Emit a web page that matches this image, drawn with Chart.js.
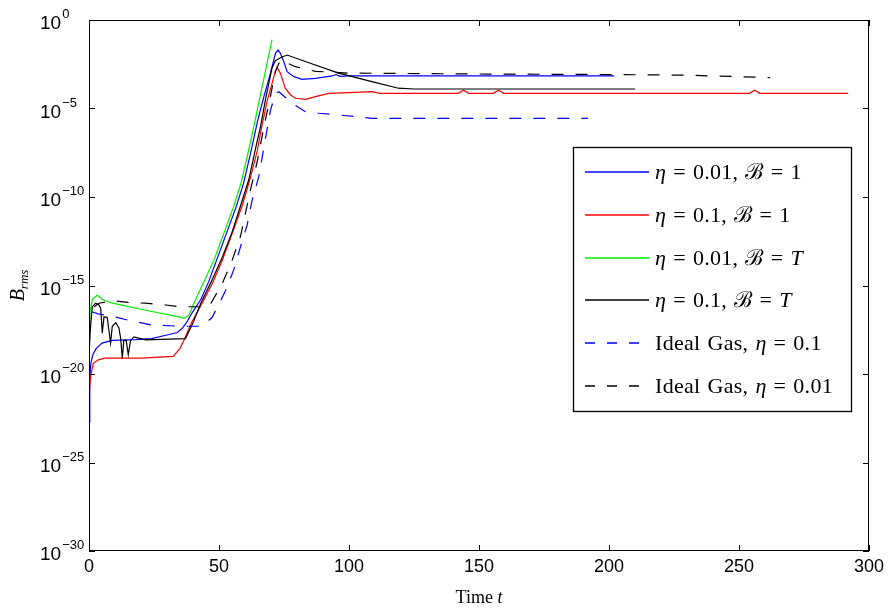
<!DOCTYPE html>
<html>
<head>
<meta charset="utf-8">
<script src="https://cdn.jsdelivr.net/npm/chart.js@4.4.0/dist/chart.umd.min.js"></script>
<style>
  html, body { margin: 0; padding: 0; background: #fff; }
</style>
</head>
<body>
<canvas id="brmsChart" width="893" height="614"></canvas>
<script>
// ---- values: time t vs B_rms ----
const xTicks = [0, 50, 100, 150, 200, 250, 300];
const yTicks = [1, 1e-5, 1e-10, 1e-15, 1e-20, 1e-25, 1e-30];
const yTickExp = ['0', '\u22125', '\u221210', '\u221215', '\u221220', '\u221225', '\u221230'];

const seriesLabels = [
    '\u03b7 = 0.01, \u212c = 1',
    '\u03b7 = 0.1, \u212c = 1',
    '\u03b7 = 0.01, \u212c = T',
    '\u03b7 = 0.1, \u212c = T',
    'Ideal Gas, \u03b7 = 0.1',
    'Ideal Gas, \u03b7 = 0.01'
];
const seriesColors = ['#0000ff', '#ff0000', '#00ee00', '#000000', '#0000ff', '#000000'];
const seriesDashed = [false, false, false, false, true, true];

// eta = 0.01, B = 1 (blue solid)
const blueT = [0, 0.3, 0.7, 1.5, 2.8, 5, 9, 18, 24, 30, 34, 36, 37.5, 39.4, 43, 46, 49.5, 53, 56.5, 59.5, 62.5, 65, 67.5, 69.8, 71.7, 72.7, 73.6, 74.9, 76.2, 78.8, 81.9, 87.1, 93.5, 95, 96.5, 100, 202];
const blueB = [2.0e-23, 5.0e-21, 4.0e-20, 1.26e-19, 2.8e-19, 5.6e-19, 7.9e-19, 8.7e-19, 1.0e-18, 1.6e-18, 2.2e-18, 4.0e-18, 7.9e-18, 2.5e-17, 1.6e-16, 1.6e-15, 4.0e-14, 1.0e-12, 2.5e-11, 6.3e-10, 5.0e-8, 2.5e-6, 6.3e-5, 1.0e-3, 1.3e-2, 2.0e-2, 1.3e-2, 4.5e-3, 1.2e-3, 6.3e-4, 4.4e-4, 5.0e-4, 6.9e-4, 8.3e-4, 6.6e-4, 6.9e-4, 6.9e-4];

// eta = 0.1, B = 1 (red solid)
const redT = [0, 0.3, 0.8, 1.65, 3.6, 6.1, 20, 32.4, 35, 36.9, 39.4, 43.5, 47.4, 51.2, 55.1, 58.9, 62.1, 64.7, 66.5, 68.5, 71.1, 72.3, 73.6, 75.5, 77.5, 79.4, 83.2, 87.1, 92.2, 99.9, 108.8, 112, 119, 142, 144, 146, 155.5, 157.5, 159.5, 254, 256, 258, 292];
const redB = [1.6e-21, 2.5e-21, 1.0e-20, 4.0e-20, 6.3e-20, 7.9e-20, 7.9e-20, 1.0e-19, 2.8e-19, 1.05e-18, 7.9e-18, 1.0e-16, 1.26e-15, 2.5e-14, 8.9e-13, 3.2e-11, 1.26e-9, 4.0e-8, 1.0e-6, 2.5e-5, 6.3e-4, 2.1e-3, 1.0e-3, 1.4e-4, 5.8e-5, 3.8e-5, 3.3e-5, 4.7e-5, 7.2e-5, 7.9e-5, 8.9e-5, 7.2e-5, 7.2e-5, 7.2e-5, 1.07e-4, 7.2e-5, 7.2e-5, 1.07e-4, 7.2e-5, 7.2e-5, 1.07e-4, 7.2e-5, 7.2e-5];

// eta = 0.01, B = T (green solid)
const greenT = [0, 0.4, 1.27, 3.2, 5.1, 9, 21.8, 34.6, 36.5, 38.4, 41, 44.8, 48.5, 52, 55.5, 58.5, 61.5, 64, 67, 70.4];
const greenB = [3.2e-19, 3.2e-17, 1.6e-16, 2.9e-16, 1.6e-16, 1.0e-16, 4.0e-17, 1.7e-17, 1.4e-17, 2.1e-17, 1.6e-16, 2.5e-15, 4.0e-14, 1.0e-12, 2.5e-11, 6.3e-10, 5.0e-8, 2.5e-6, 3.2e-4, 7.9e-2];

// eta = 0.1, B = T (black solid)
const blackT = [0, 0.5, 1.27, 2.57, 3.84, 4.5, 5.1, 5.76, 7.0, 8.3, 8.95, 10.3, 11.5, 12.2, 12.8, 13.4, 14.3, 15.1, 16.0, 17.3, 21.8, 37.1, 40, 43, 47, 51, 55, 58.5, 61.5, 64, 66, 68, 70.4, 71.7, 74, 76.2, 83.2, 96, 108.8, 119, 125, 210];
const blackB = [1.0e-19, 3.2e-18, 6.3e-17, 1.0e-16, 7.9e-17, 5.0e-17, 2.0e-18, 1.7e-17, 1.6e-17, 5.6e-19, 5.0e-18, 7.9e-18, 4.0e-18, 1.0e-18, 7.9e-20, 7.9e-19, 7.9e-19, 1.26e-19, 7.9e-19, 1.26e-18, 8.5e-19, 1.0e-18, 7.9e-18, 1.0e-16, 1.6e-15, 3.2e-14, 1.0e-12, 4.0e-11, 1.0e-9, 5.0e-8, 1.0e-6, 4.0e-5, 2.0e-3, 5.0e-3, 7.9e-3, 1.05e-2, 4.5e-3, 1.0e-3, 3.3e-4, 1.4e-4, 1.26e-4, 1.26e-4];

// Ideal gas, eta = 0.1 (blue dashed)
const idealBlueT = [1.27, 3.6, 9, 15, 24, 35, 43.5, 47.4, 52.5, 55.7, 58.3, 60.8, 62.7, 65.3, 67.5, 69.8, 71.7, 73, 78.1, 83.2, 88.4, 96, 109, 192];
const idealBlueB = [3.2e-17, 2.5e-17, 1.8e-17, 1.1e-17, 5.9e-18, 5.0e-18, 5.0e-18, 1.6e-17, 5.0e-16, 7.9e-15, 1.6e-13, 2.5e-12, 6.3e-11, 1.4e-9, 1.0e-7, 7.9e-6, 7.2e-5, 8.9e-5, 2.0e-5, 6.6e-6, 5.4e-6, 4.3e-6, 2.8e-6, 2.8e-6];

// Ideal gas, eta = 0.01 (black dashed)
const idealBlackT = [2, 3.84, 9, 15, 21.8, 29.6, 34.6, 46, 47.3, 51.2, 55, 58.3, 60.2, 62.1, 64.7, 67.2, 69.8, 71.7, 73.6, 79.4, 87.1, 99.9, 150, 200, 230, 262];
const idealBlackB = [6.3e-17, 1.0e-16, 1.4e-16, 1.1e-16, 1.0e-16, 7.9e-17, 6.3e-17, 6.3e-17, 1.26e-16, 1.26e-15, 2.5e-14, 6.3e-13, 1.26e-11, 2.5e-10, 1.0e-8, 7.9e-7, 5.0e-5, 1.26e-3, 5.5e-3, 2.3e-3, 1.26e-3, 1.0e-3, 8.9e-4, 8.3e-4, 7.6e-4, 5.6e-4];

const SANS = '"Liberation Sans", Arial, Helvetica, sans-serif';
const SERIF = '"Liberation Serif", "DejaVu Serif", "Times New Roman", serif';

function pts(ts, bs) {
    return ts.map((t, i) => ({ x: t, y: bs[i] }));
}

function makeSet(i, ts, bs) {
    return {
        label: seriesLabels[i],
        data: pts(ts, bs),
        borderColor: seriesColors[i],
        backgroundColor: seriesColors[i],
        borderWidth: 1.2,
        borderDash: seriesDashed[i] ? [12, 12] : [],
        pointRadius: 0,
        fill: false,
        tension: 0,
        order: 5 - i   // later series drawn on top, like the original plot
    };
}

// draw text where eta and T are italic (math style)
function drawMath(ctx, str, x, y, size) {
    for (const ch of str) {
        const ital = '\u03b7Tt'.includes(ch);
        ctx.font = (ital ? 'italic ' : '') + size + 'px ' + SERIF;
        ctx.fillText(ch, x, y);
        x += ctx.measureText(ch).width + (ch === ' ' ? 1.5 : 0.3);
    }
    return x;
}

// Matlab-like frame: box, inward ticks, 10^n labels, axis titles, legend
const framePlugin = {
    id: 'frame',
    afterDraw(chart) {
        const { ctx, chartArea: a, scales: { x, y } } = chart;
        ctx.save();
        ctx.strokeStyle = '#000';
        ctx.lineWidth = 1;
        ctx.strokeRect(a.left + 0.5, a.top + 0.5, a.right - a.left - 1, a.bottom - a.top - 1);

        ctx.beginPath();
        xTicks.forEach(v => {
            const px = Math.round(x.getPixelForValue(v)) + 0.5;
            ctx.moveTo(px, a.bottom); ctx.lineTo(px, a.bottom - 6);
            ctx.moveTo(px, a.top); ctx.lineTo(px, a.top + 6);
        });
        yTicks.forEach(v => {
            const py = Math.round(y.getPixelForValue(v)) + 0.5;
            ctx.moveTo(a.left, py); ctx.lineTo(a.left + 6, py);
            ctx.moveTo(a.right, py); ctx.lineTo(a.right - 6, py);
        });
        ctx.stroke();

        // y tick labels 10^n
        ctx.fillStyle = '#000';
        ctx.textAlign = 'left';
        ctx.textBaseline = 'alphabetic';
        yTicks.forEach((v, i) => {
            const py = y.getPixelForValue(v);
            ctx.font = '19px ' + SANS;
            ctx.fillText('10', 40, py + 9);
            const w = ctx.measureText('10').width;
            ctx.font = '13px ' + SANS;
            ctx.fillText(yTickExp[i], 40 + w + 1, py - 2);
        });

        // x title
        ctx.font = '18px ' + SERIF;
        const tw = ctx.measureText('Time ').width;
        ctx.font = 'italic 18px ' + SERIF;
        const tw2 = ctx.measureText('t').width;
        const cx = (a.left + a.right) / 2;
        const sx = cx - (tw + tw2) / 2;
        ctx.font = '18px ' + SERIF;
        ctx.fillText('Time ', sx, 603);
        ctx.font = 'italic 18px ' + SERIF;
        ctx.fillText('t', sx + tw, 603);

        // y title B_rms
        ctx.translate(24, (a.top + a.bottom) / 2);
        ctx.rotate(-Math.PI / 2);
        ctx.font = 'italic 20px ' + SERIF;
        const bw = ctx.measureText('B').width;
        ctx.font = 'italic 13px ' + SERIF;
        const rw = ctx.measureText('rms').width;
        const start = -(bw + rw) / 2;
        ctx.font = 'italic 20px ' + SERIF;
        ctx.fillText('B', start, 0);
        ctx.font = 'italic 13px ' + SERIF;
        ctx.fillText('rms', start + bw, 4);
        ctx.restore();

        // legend box inside the axes
        const bx = a.right - 296, by = a.top + 127, bwid = 278, bh = 264;
        ctx.save();
        ctx.fillStyle = '#fff';
        ctx.fillRect(bx, by, bwid, bh);
        ctx.strokeStyle = '#000';
        ctx.lineWidth = 1.3;
        ctx.strokeRect(bx + 0.5, by + 0.5, bwid, bh);
        seriesLabels.forEach((label, i) => {
            const ry = Math.round(by + 25 + i * 42.8);
            ctx.strokeStyle = seriesColors[i];
            ctx.lineWidth = 1.3;
            ctx.setLineDash(seriesDashed[i] ? [10, 12] : []);
            ctx.beginPath();
            ctx.moveTo(bx + 12, ry);
            ctx.lineTo(bx + 76, ry);
            ctx.stroke();
            ctx.setLineDash([]);
            ctx.fillStyle = '#000';
            ctx.textBaseline = 'alphabetic';
            drawMath(ctx, label, bx + 82, ry + 7, 22);
        });
        ctx.restore();
    }
};

const ctx = document.getElementById('brmsChart');
new Chart(ctx, {
    type: 'line',
    data: {
        datasets: [
            makeSet(0, blueT, blueB),
            makeSet(1, redT, redB),
            makeSet(2, greenT, greenB),
            makeSet(3, blackT, blackB),
            makeSet(4, idealBlueT, idealBlueB),
            makeSet(5, idealBlackT, idealBlackB)
        ]
    },
    options: {
        responsive: false,
        animation: false,
        layout: { padding: { top: 20, right: 24, left: 0, bottom: 0 } },
        plugins: {
            legend: { display: false },
            tooltip: { enabled: false }
        },
        scales: {
            x: {
                type: 'linear',
                min: 0,
                max: 300,
                grid: { display: false, drawTicks: false },
                border: { display: false },
                ticks: {
                    stepSize: 50,
                    autoSkip: false,
                    maxRotation: 0,
                    padding: 5,
                    color: '#000',
                    font: { family: SANS, size: 18 }
                },
                afterFit: s => { s.height = 63; }
            },
            y: {
                type: 'logarithmic',
                min: 1e-30,
                max: 1,
                grid: { display: false, drawTicks: false },
                border: { display: false },
                ticks: { display: false },
                afterBuildTicks: s => { s.ticks = yTicks.map(v => ({ value: v })); },
                afterFit: s => { s.width = 89; }
            }
        }
    },
    plugins: [framePlugin]
});
</script>
</body>
</html>
